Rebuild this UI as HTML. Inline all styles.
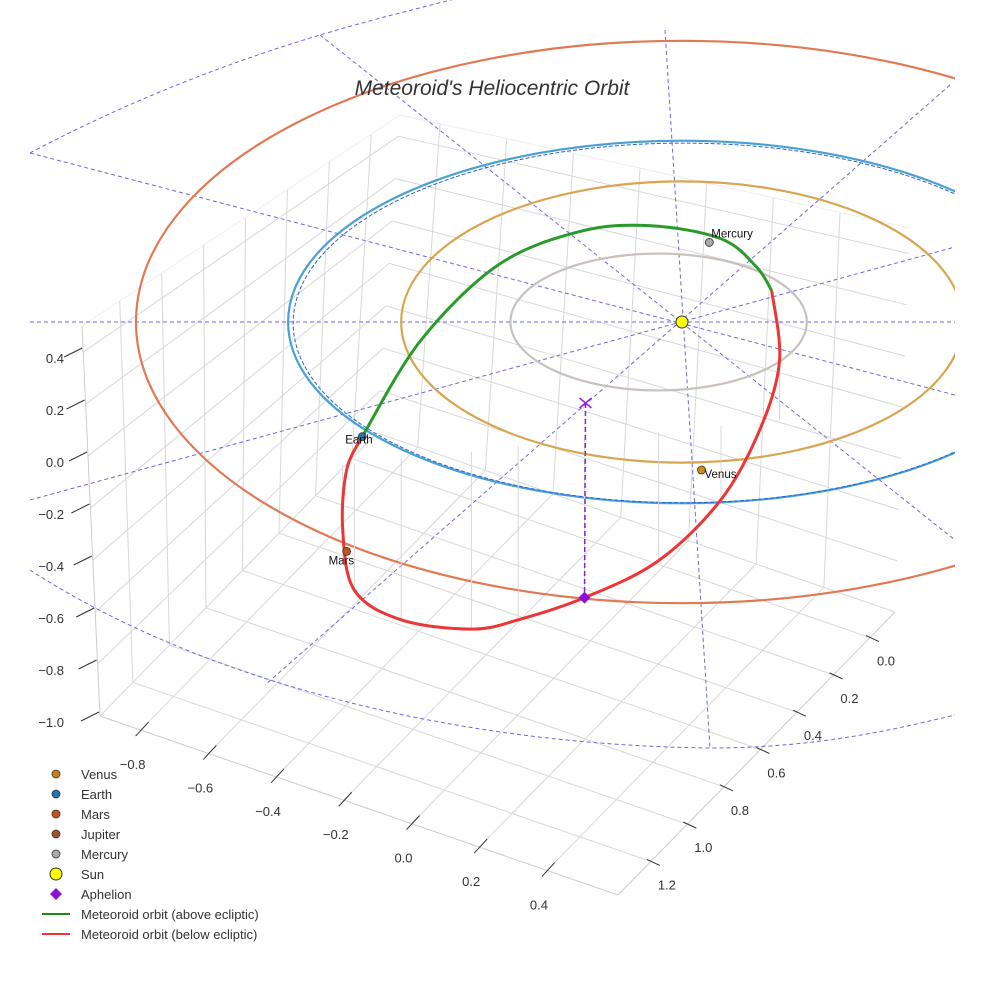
<!DOCTYPE html>
<html><head><meta charset="utf-8"><style>
body{margin:0;background:#fff;}
svg{display:block;font-family:"Liberation Sans",sans-serif;}
</style></head><body>
<svg id="chart" width="984" height="984" viewBox="0 0 984 984" xmlns="http://www.w3.org/2000/svg">
<rect width="984" height="984" fill="#fff"/>
<g id="grid"></g>
<g id="axes"></g>
<g id="guides"></g>
<g id="orbits"></g>
<g id="meteor"></g>
<g id="markers"></g>
<text x="492" y="95" text-anchor="middle" font-size="21" font-style="italic" fill="#333">Meteoroid's Heliocentric Orbit</text>
<g id="legend"></g>
</svg>
<script>
// ---- data ----
const planetNames = ["Mercury","Venus","Earth","Mars","Jupiter"];
const orbitRx = [0.38, 0.72, 1.01, 1.40];
const orbitRy = [0.37, 0.76, 0.98, 1.52];
const orbitCx = [-0.06, 0.0, 0.0, 0.0];
const orbitColors = ["#c9c1bd","#d8a550","#4aa0d2","#e07a55"];
const planetU = [0.07, 0.05, -0.82, -0.86];
const planetV = [-0.43, 0.80, 0.62, 1.24];
const planetColors = ["#a9a9a9","#d08a1c","#1f77b4","#c8501c"];
const meteorAboveU = [-0.82,-0.67,-0.47,-0.26,-0.08,0.10,0.19,0.23];
const meteorAboveV = [0.62,0.10,-0.31,-0.49,-0.52,-0.45,-0.30,-0.17];
const meteorBelowU = [0.23,0.25,0.20,0.10,-0.06,-0.25,-0.42,-0.54,-0.72,-0.84,-0.87,-0.86,-0.82];
const meteorBelowV = [-0.17,0.21,0.58,0.96,1.29,1.49,1.61,1.66,1.61,1.45,1.12,0.80,0.62];
const aphelionU = -0.25, aphelionV = 1.49;
const xTicks = [-0.8,-0.6,-0.4,-0.2,0.0,0.2,0.4];
const yTicks = [0.0,0.2,0.4,0.6,0.8,1.0,1.2];
const zTicks = [0.4,0.2,0.0,-0.2,-0.4,-0.6,-0.8,-1.0];

const NS="http://www.w3.org/2000/svg";
function mk(parent,tag,attrs){const e=document.createElementNS(NS,tag);for(const k in attrs)e.setAttribute(k,attrs[k]);parent.appendChild(e);return e;}
const SX=682, SY=322, KU=390, KV=185;
function px(u){return SX+u*KU;} function py(v){return SY+v*KV;}

// ---- box geometry ----
const A=[100,716],K=[377,433],R=[895,612],F=[618,895];
const At=[82,326],Kt=[400,115],Rt=[910,228];
const xMin=-0.92,xMax=0.61,yMin=-0.137,yMax=1.38,zMin=-1.0,zMax=0.5;
function L(p,q,t){return [p[0]+(q[0]-p[0])*t,p[1]+(q[1]-p[1])*t];}
const grid=document.getElementById('grid');
function gl(p,q,c,n){const e=mk(grid,'line',{x1:p[0],y1:p[1],x2:q[0],y2:q[1],stroke:c||'#d8d8d8','stroke-width':1});

}
function tx_(x){return (x-xMin)/(xMax-xMin);} function ty_(y){return (y-yMin)/(yMax-yMin);} function tz_(z){return (z-zMin)/(zMax-zMin);}
xTicks.forEach(x=>{const t=tx_(x);gl(L(A,F,t),L(K,R,t),null,'floor-gridline-x');});
yTicks.forEach(y=>{const t=ty_(y);gl(L(R,F,t),L(K,A,t),null,'floor-gridline-y');});
zTicks.forEach(z=>{const t=tz_(z);gl(L(A,At,t),L(K,Kt,t),null,'left-wall-gridline-z');});
yTicks.forEach(y=>{const t=ty_(y);gl(L(K,A,t),L(Kt,At,t),null,'left-wall-gridline-y');});
zTicks.forEach(z=>{const t=tz_(z);gl(L(K,Kt,t),L(R,Rt,t),null,'back-wall-gridline-z');});
xTicks.forEach(x=>{const t=tx_(x);gl(L(K,R,t),L(Kt,Rt,t),null,'back-wall-gridline-x');});
gl(A,F,'#ccc','x-axis-line');gl(F,R,'#ccc','y-axis-line');gl(A,At,'#ccc','z-axis-line');
gl(At,Kt,'#eee','wall-top-edge');gl(Kt,Rt,'#eee','wall-top-edge');

// ---- axis ticks/labels ----
const axes=document.getElementById('axes');
function fmt(v){const s=Math.abs(v).toFixed(1);return (v<-1e-9?'\u2212':'')+s;}
function tick(p,q,n){const l=mk(axes,'line',{x1:p[0],y1:p[1],x2:q[0],y2:q[1],stroke:'#333','stroke-width':1});
 
 }
function lab(x,y,txt,anchor,n){const t=mk(axes,'text',{x,y,'font-size':13,fill:'#333','text-anchor':anchor});t.textContent=txt;
 
 }
xTicks.forEach(x=>{const p=L(A,F,tx_(x));tick([p[0]+8,p[1]-8],[p[0]-5,p[1]+6],'x-axis');lab(p[0]-8,p[1]+39,fmt(x),'middle','x-axis');});
yTicks.forEach(y=>{const p=L(R,F,ty_(y));tick([p[0]-4,p[1]-2],[p[0]+9,p[1]+4],'y-axis');lab(p[0]+16,p[1]+28,fmt(y),'middle','y-axis');});
zTicks.forEach(z=>{const p=L(A,At,tz_(z));tick([p[0]-1,p[1]-4],[p[0]-19,p[1]+5],'z-axis');lab(64,p[1]+11,fmt(z),'end','z-axis');});

// ---- guides ----
const guides=document.getElementById('guides');
const cl=mk(guides,'clipPath',{id:'clipR'});mk(cl,'rect',{x:30,y:0,width:925,height:984});
const gg=mk(guides,'g',{'clip-path':'url(#clipR)'});
const bigTop=mk(gg,'path',{d:'M30,153 C130,100 230,62 320,35 C370,20 420,8 470,-5',fill:'none',stroke:'#6a6ae0','stroke-width':1,'stroke-dasharray':'4,3'});


const bigBot=mk(gg,'path',{d:'M30,570 C200,680 450,745 710,748 C820,748 900,728 955,715',fill:'none',stroke:'#6a6ae0','stroke-width':1,'stroke-dasharray':'4,3'});


const spokes=[[30,322,955,322],[320,35,955,540],[950,85,265,685],[30,500,955,247],[30,153,955,395],[665,30,710,748]];
spokes.forEach(s=>{
 const l=mk(gg,'line',{x1:s[0],y1:s[1],x2:s[2],y2:s[3],stroke:'#6a6ae0','stroke-width':1,'stroke-dasharray':'4,3'});
 
 });

// ---- planet orbits ----
const orbits=document.getElementById('orbits');
const oc=mk(orbits,'clipPath',{id:'clipO'});mk(oc,'rect',{x:0,y:0,width:955,height:984});
const og=mk(orbits,'g',{'clip-path':'url(#clipO)'});
orbitRx.forEach((rx,i)=>{
 const e=mk(og,'ellipse',{cx:px(orbitCx[i]),cy:py(0),rx:rx*KU,ry:orbitRy[i]*KV,fill:'none',stroke:orbitColors[i],'stroke-width':2.2});
 
 
});
const ed=mk(og,'ellipse',{cx:px(0.003),cy:py(0.005),rx:1.0*KU,ry:0.972*KV,fill:'none',stroke:'#2a63d8','stroke-width':1,'stroke-dasharray':'4,2'});



// ---- meteoroid orbit ----
const meteor=document.getElementById('meteor');
function smooth(us,vs){const P=us.map((u,i)=>[px(u),py(vs[i])]);let d='M'+P[0][0]+','+P[0][1];
 for(let i=0;i<P.length-1;i++){const p0=P[Math.max(0,i-1)],p1=P[i],p2=P[i+1],p3=P[Math.min(P.length-1,i+2)];
 d+=' C'+(p1[0]+(p2[0]-p0[0])/6)+','+(p1[1]+(p2[1]-p0[1])/6)+' '+(p2[0]-(p3[0]-p1[0])/6)+','+(p2[1]-(p3[1]-p1[1])/6)+' '+p2[0]+','+p2[1];}return d;}
meteorBelowU.forEach((u,i)=>{if(i===0||i===meteorBelowU.length-1)return;
 const x=px(u),y=py(meteorBelowV[i]);const top=450-(u+0.5)*40;
 const l=mk(meteor,'line',{x1:x,y1:y,x2:x,y2:top,stroke:'#d8d8d8','stroke-width':1});
 
 });
const ga=mk(meteor,'path',{d:smooth(meteorAboveU,meteorAboveV),fill:'none',stroke:'#2a9a2a','stroke-width':3});


const rb=mk(meteor,'path',{d:smooth(meteorBelowU,meteorBelowV),fill:'none',stroke:'#ee3535','stroke-width':3});


const ax=px(aphelionU),ay=py(aphelionV);
const vl=mk(meteor,'line',{x1:ax+1,y1:403,x2:ax,y2:ay,stroke:'#8b1fd0','stroke-width':1.5,'stroke-dasharray':'5,3'});


const xm=mk(meteor,'path',{d:`M${ax-5},398 L${ax+7},408 M${ax+7},398 L${ax-5},408`,stroke:'#9a20d8','stroke-width':1.5});



// ---- markers ----
const markers=document.getElementById('markers');
const ap=mk(markers,'path',{d:`M${ax},${ay-6} L${ax+6},${ay} L${ax},${ay+6} L${ax-6},${ay} Z`,fill:'#8b10d8'});


planetU.forEach((u,i)=>{const x=px(u),y=py(planetV[i]);
 const c=mk(markers,'circle',{cx:x,cy:y,r:4,fill:planetColors[i],stroke:'#333','stroke-width':0.8});
 
 
 const off=[[2,-5],[3,8],[-17,7],[-18,13]][i];
 const t=mk(markers,'text',{x:x+off[0],y:y+off[1],'font-size':11.5,fill:'#111'});t.textContent=planetNames[i];
 
 });
const sun=mk(markers,'circle',{cx:SX,cy:SY,r:6,fill:'#ffff00',stroke:'#333','stroke-width':1});



// ---- legend ----
const legend=document.getElementById('legend');
const legNames=["Venus","Earth","Mars","Jupiter","Mercury","Sun","Aphelion","Meteoroid orbit (above ecliptic)","Meteoroid orbit (below ecliptic)"];
const legColors=["#c8801c","#1f77b4","#c8501c","#a0522d","#b0a8a4","#ffff00","#8b10d8","#1a8a1a","#ee3535"];
legNames.forEach((n,i)=>{const y=774+i*20;const g=mk(legend,'g',{});
 
 
 if(i<5)mk(g,'circle',{cx:56,cy:y,r:4,fill:legColors[i],stroke:'#333','stroke-width':0.8});
 else if(i===5)mk(g,'circle',{cx:56,cy:y,r:6,fill:legColors[i],stroke:'#333','stroke-width':1});
 else if(i===6)mk(g,'path',{d:`M56,${y-6} L62,${y} L56,${y+6} L50,${y} Z`,fill:legColors[i]});
 else mk(g,'line',{x1:42,y1:y,x2:70,y2:y,stroke:legColors[i],'stroke-width':2});
 const t=mk(g,'text',{x:81,y:y+5,'font-size':13,fill:'#333'});t.textContent=n;});
</script>
</body></html>
